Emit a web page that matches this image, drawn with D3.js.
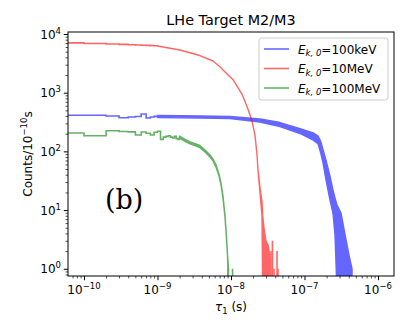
<!DOCTYPE html>
<html>
<head>
<meta charset="utf-8">
<script src="https://cdn.jsdelivr.net/npm/d3@7"></script>
<style>
  body { margin: 0; background: #fff; }
  text { font-family: "DejaVu Sans", sans-serif; fill: #000; }
</style>
</head>
<body>
<script>
// histogram bin width (s) -> counts per 1e-10 s
let binWidth = 1e-10;

// first bins of each histogram (bin k spans k*1e-10 .. (k+1)*1e-10)
let blueSteps = [412, 412, 400, 375, 385, 392, 434, 370, 385, 395];
let redSteps = [7050, 6900, 6750, 6650, 6550, 6500, 6450, 6400, 6350, 6300];
let greenSteps = [206, 185, 225, 218, 215, 190, 214, 204, 190, 212,
                  220, 160, 175, 180, 185, 175, 170, 180, 165, 160];

// dense (noisy) part: [tau, low, high]
let blueBand = [
    [1.0e-9, 378, 409], [2.02e-9, 373, 404], [3.78e-9, 371, 400],
    [9.68e-9, 363, 394], [2.48e-8, 317, 356], [4.64e-8, 265, 310],
    [8.69e-8, 202, 245], [1.31e-7, 156, 206], [1.53e-7, 134, 183],
    [1.67e-7, 92, 145], [1.79e-7, 63, 106], [1.96e-7, 33, 71],
    [2.22e-7, 14.9, 38], [2.44e-7, 8.9, 22], [2.60e-7, 3.8, 16],
    [2.77e-7, 0, 12.2], [3.14e-7, 0, 8.9], [3.56e-7, 0, 3.8],
    [4.03e-7, 0, 1.7], [4.43e-7, 0, 1]
];
let redBand = [
    [1.0e-9, 6250, 6250], [2.02e-9, 5340, 5340], [3.78e-9, 4300, 4300],
    [5.69e-9, 3470, 3470], [7.08e-9, 2770, 2770], [7.78e-9, 2440, 2440],
    [1.06e-8, 1680, 1680], [1.41e-8, 950, 950], [1.70e-8, 527, 527],
    [1.93e-8, 330, 330], [2.12e-8, 190, 190], [2.26e-8, 87, 87],
    [2.33e-8, 48, 48], [2.48e-8, 20, 24], [2.64e-8, 8, 14],
    [2.70e-8, 0, 8], [2.81e-8, 0, 5], [2.99e-8, 0, 3],
    [3.2e-8, 0, 2.5], [3.4e-8, 0, 1.5]
];
let greenBand = [
    [2.0e-9, 169, 183], [2.37e-9, 148, 160], [2.77e-9, 134, 145],
    [3.24e-9, 126, 136], [3.78e-9, 116, 126], [4.43e-9, 98, 106],
    [5.18e-9, 80, 87], [5.69e-9, 69, 74], [6.25e-9, 54, 59],
    [6.87e-9, 38, 41], [7.31e-9, 26.8, 29], [7.78e-9, 16, 17.4],
    [8.28e-9, 7.6, 8.3], [8.69e-9, 3.2, 3.5], [8.96e-9, 1.7, 1.79],
    [9.24e-9, 0, 1.0]
];

// single non-empty bins in the tails: [tau, count]
let blueSpikes = [[4.2e-7, 1]];
let redSpikes = [[3.5e-8, 2], [3.66e-8, 3], [3.85e-8, 1], [4.23e-8, 2], [4.36e-8, 1]];
let greenSpikes = [[9.1e-9, 1], [1.05e-8, 1]];

let legendEnergy = ["100keV", "10MeV", "100MeV"];
let colors = ["#0000ff", "#ff0000", "#008000"];

let xMajor = [1e-10, 1e-9, 1e-8, 1e-7, 1e-6];
let xExp = ["\u221210", "\u22129", "\u22128", "\u22127", "\u22126"];
let yMajor = [1, 10, 100, 1000, 10000];
let yExp = ["0", "1", "2", "3", "4"];

let w = 407,
    h = 326;
let pLeft = 68, pRight = 394, pTop = 32, pBottom = 276;

let svg = d3.select("body")
    .append("svg")
    .attr("width", w)
    .attr("height", h);

let x = d3.scaleLog()
    .domain([6.06e-11, 1.65e-6])
    .range([pLeft, pRight]);

let y = d3.scaleLog()
    .domain([0.753, 10820])
    .range([pBottom, pTop]);

// empty bins drop below the axis
let yv = function(c) {
    return y(Math.max(c, 0.4));
};

svg.append("clipPath")
    .attr("id", "plotClip")
    .append("rect")
    .attr("x", pLeft)
    .attr("y", pTop)
    .attr("width", pRight - pLeft)
    .attr("height", pBottom - pTop);

let plot = svg.append("g").attr("clip-path", "url(#plotClip)");

let stepLine = d3.line()
    .x(function(d) { return x(d[0]); })
    .y(function(d) { return yv(d[1]); })
    .curve(d3.curveStepAfter);

let band = d3.area()
    .x(function(d) { return x(d[0]); })
    .y0(function(d) { return yv(d[1]); })
    .y1(function(d) { return yv(d[2]); });

function drawSeries(steps, bandData, spikes, color) {
    let g = plot.append("g").attr("opacity", 0.6);
    let pts = steps.map(function(c, i) {
        return [i === 0 ? x.domain()[0] : i * binWidth, c];
    });
    pts.push([steps.length * binWidth, steps[steps.length - 1]]);
    // join the step part to the band
    pts.push([bandData[0][0], (bandData[0][1] + bandData[0][2]) / 2]);

    g.append("path")
        .datum(pts)
        .attr("d", stepLine)
        .attr("fill", "none")
        .attr("stroke", color)
        .attr("stroke-width", 1.6);

    g.append("path")
        .datum(bandData)
        .attr("d", band)
        .attr("fill", color)
        .attr("stroke", color)
        .attr("stroke-width", 1.4)
        .attr("stroke-linejoin", "round");

    g.selectAll(".spike")
        .data(spikes)
        .enter()
        .append("line")
        .attr("x1", function(d) { return x(d[0]); })
        .attr("x2", function(d) { return x(d[0]); })
        .attr("y1", yv(0))
        .attr("y2", function(d) { return yv(d[1]); })
        .attr("stroke", color)
        .attr("stroke-width", 1.6);
}

drawSeries(blueSteps, blueBand, blueSpikes, colors[0]);
drawSeries(redSteps, redBand, redSpikes, colors[1]);
drawSeries(greenSteps, greenBand, greenSpikes, colors[2]);

// minor ticks on log axes
function minorTicks(domain) {
    let out = [];
    let lo = Math.floor(Math.log10(domain[0])),
        hi = Math.ceil(Math.log10(domain[1]));
    for (let e = lo; e <= hi; e++) {
        for (let m = 2; m <= 9; m++) {
            let v = m * Math.pow(10, e);
            if (v >= domain[0] && v <= domain[1]) out.push(v);
        }
    }
    return out;
}

function styleAxis(g, width) {
    g.select(".domain").remove();
    g.selectAll("line").attr("stroke", "#000").attr("stroke-width", width);
}

svg.append("g")
    .attr("transform", "translate(0," + pBottom + ")")
    .call(d3.axisBottom(x).tickValues(xMajor).tickSize(4.2).tickFormat(""))
    .call(styleAxis, 1);
svg.append("g")
    .attr("transform", "translate(0," + pBottom + ")")
    .call(d3.axisBottom(x).tickValues(minorTicks(x.domain())).tickSize(2.4).tickFormat(""))
    .call(styleAxis, 0.7);
svg.append("g")
    .attr("transform", "translate(" + pLeft + ",0)")
    .call(d3.axisLeft(y).tickValues(yMajor).tickSize(4.2).tickFormat(""))
    .call(styleAxis, 1);
svg.append("g")
    .attr("transform", "translate(" + pLeft + ",0)")
    .call(d3.axisLeft(y).tickValues(minorTicks(y.domain())).tickSize(2.4).tickFormat(""))
    .call(styleAxis, 0.7);

// frame
svg.append("rect")
    .attr("x", pLeft)
    .attr("y", pTop)
    .attr("width", pRight - pLeft)
    .attr("height", pBottom - pTop)
    .attr("fill", "none")
    .attr("stroke", "#000")
    .attr("stroke-width", 1);

// tick labels
let xLabels = svg.selectAll(".xlab")
    .data(xMajor)
    .enter()
    .append("text")
    .attr("class", "xlab")
    .attr("x", function(d) { return x(d); })
    .attr("y", 294)
    .attr("text-anchor", "middle")
    .style("font-size", "12px");
xLabels.append("tspan").text("10");
xLabels.append("tspan")
    .attr("dy", -5)
    .style("font-size", "8.5px")
    .text(function(d, i) { return xExp[i]; });

let yLabels = svg.selectAll(".ylab")
    .data(yMajor)
    .enter()
    .append("text")
    .attr("class", "ylab")
    .attr("x", pLeft - 7)
    .attr("y", function(d) { return y(d) + 4.5; })
    .attr("text-anchor", "end")
    .style("font-size", "12px");
yLabels.append("tspan").text("10");
yLabels.append("tspan")
    .attr("dy", -5)
    .style("font-size", "8.5px")
    .text(function(d, i) { return yExp[i]; });

// title
svg.append("text")
    .attr("x", (pLeft + pRight) / 2)
    .attr("y", 25)
    .attr("text-anchor", "middle")
    .style("font-size", "14.4px")
    .text("LHe Target M2/M3");

// x label
let xTitle = svg.append("text")
    .attr("x", (pLeft + pRight) / 2)
    .attr("y", 311)
    .attr("text-anchor", "middle")
    .style("font-size", "12px");
xTitle.append("tspan").style("font-style", "italic").text("\u03c4");
xTitle.append("tspan").attr("dy", 2.5).style("font-size", "8.5px").text("1");
xTitle.append("tspan").attr("dy", -2.5).text(" (s)");

// y label
let yTitle = svg.append("text")
    .attr("transform", "translate(32," + (pTop + pBottom) / 2 + ") rotate(-90)")
    .attr("text-anchor", "middle")
    .style("font-size", "12px");
yTitle.append("tspan").text("Counts/10");
yTitle.append("tspan").attr("dy", -5).style("font-size", "8.5px").text("\u221210");
yTitle.append("tspan").attr("dy", 5).text("s");

// panel tag
svg.append("text")
    .attr("x", 105)
    .attr("y", 209)
    .style("font-family", "'DejaVu Serif', serif")
    .style("font-size", "27px")
    .text("(b)");

// legend
let legend = svg.append("g");
legend.append("rect")
    .attr("x", 259)
    .attr("y", 38)
    .attr("width", 129)
    .attr("height", 62)
    .attr("rx", 2.5)
    .attr("fill", "#fff")
    .attr("fill-opacity", 0.8)
    .attr("stroke", "#cccccc")
    .attr("stroke-width", 1);

let rows = legend.selectAll(".row")
    .data(legendEnergy)
    .enter()
    .append("g")
    .attr("class", "row")
    .attr("transform", function(d, i) { return "translate(0," + (49 + i * 19.5) + ")"; });

rows.append("line")
    .attr("x1", 264)
    .attr("x2", 289)
    .attr("stroke", function(d, i) { return colors[i]; })
    .attr("stroke-opacity", 0.6)
    .attr("stroke-width", 1.6);

let rowText = rows.append("text")
    .attr("x", 298)
    .attr("y", 4.5)
    .style("font-size", "12px");
rowText.append("tspan").style("font-style", "italic").text("E");
rowText.append("tspan").attr("dy", 2.5).style("font-size", "8.5px").style("font-style", "italic").text("k, 0");
rowText.append("tspan").attr("dy", -2.5).text(function(d) { return "=" + d; });
</script>
</body>
</html>
